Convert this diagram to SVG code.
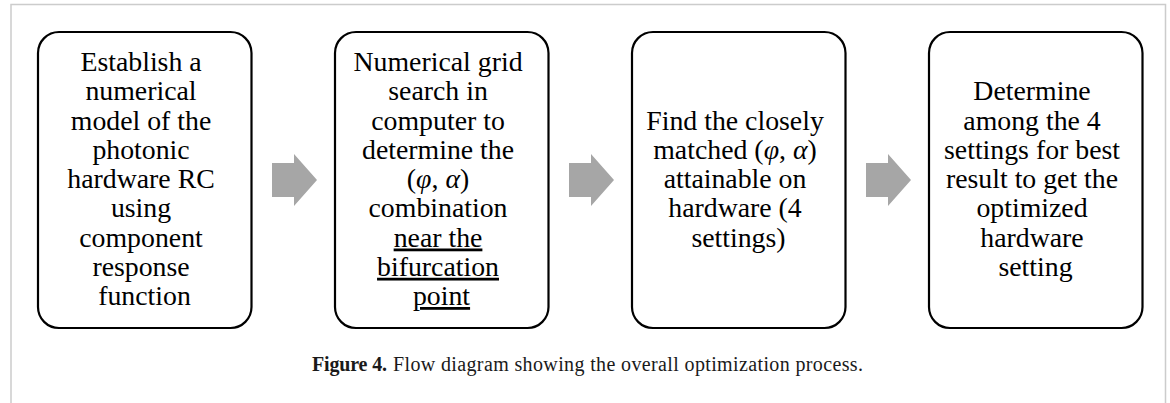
<svg xmlns="http://www.w3.org/2000/svg" width="1170" height="403" viewBox="0 0 1170 403">
  <style>
    .frame { fill: none; stroke: #cccccc; stroke-width: 1.5; }
    .box { fill: #ffffff; stroke: #000000; stroke-width: 2.2; }
    .arrow { fill: #a6a6a6; stroke: none; }
    .label { font-family: "Liberation Serif", "Times New Roman", serif; font-size: 27.8px; fill: #000000; text-anchor: middle; }
    .m { font-style: italic; }
    .u { text-decoration: underline; }
    .cap { font-family: "Liberation Serif", "Times New Roman", serif; font-size: 20px; fill: #1a1a1a; }
  </style>
  <defs>
    <polygon id="block-arrow" class="arrow" points="0,-17 22,-17 22,-26 45,0 22,26 22,17 0,17"/>
  </defs>

  <rect width="1170" height="403" fill="#ffffff"/>
  <path class="frame" d="M11,403 V4.5 H1165.5 V403"/>

  <g id="connectors">
    <use href="#block-arrow" x="272" y="180"/>
    <use href="#block-arrow" x="569" y="180"/>
    <use href="#block-arrow" x="866" y="180"/>
  </g>

  <g id="node-model">
    <rect class="box" x="38" y="32" width="213.5" height="296" rx="21"/>
    <text class="label" x="144.5" y="71">
      <tspan x="144.5" y="71">Establish a</tspan>
      <tspan x="144.5" y="100.25">numerical</tspan>
      <tspan x="144.5" y="129.5">model of the</tspan>
      <tspan x="144.5" y="158.75">photonic</tspan>
      <tspan x="144.5" y="188">hardware RC</tspan>
      <tspan x="144.5" y="217.25">using</tspan>
      <tspan x="144.5" y="246.5">component</tspan>
      <tspan x="144.5" y="275.75">response</tspan>
      <tspan x="144.5" y="305">function</tspan>
    </text>
  </g>

  <g id="node-grid-search">
    <rect class="box" x="335" y="32" width="213.5" height="296" rx="21"/>
    <text class="label" x="441.5" y="71">
      <tspan x="441.5" y="71">Numerical grid</tspan>
      <tspan x="441.5" y="100.25">search in</tspan>
      <tspan x="441.5" y="129.5">computer to</tspan>
      <tspan x="441.5" y="158.75">determine the</tspan>
      <tspan x="441.5" y="188">(<tspan class="m">φ</tspan>, <tspan class="m">α</tspan>)</tspan>
      <tspan x="441.5" y="217.25">combination</tspan>
      <tspan x="441.5" y="246.5" class="u">near the</tspan>
      <tspan x="441.5" y="275.75" class="u">bifurcation</tspan>
      <tspan x="441.5" y="305" class="u">point</tspan>
    </text>
  </g>

  <g id="node-hardware-match">
    <rect class="box" x="632" y="32" width="213.5" height="296" rx="21"/>
    <text class="label" x="738.5" y="129.5">
      <tspan x="738.5" y="129.5">Find the closely</tspan>
      <tspan x="738.5" y="158.75">matched (<tspan class="m">φ</tspan>, <tspan class="m">α</tspan>)</tspan>
      <tspan x="738.5" y="188">attainable on</tspan>
      <tspan x="738.5" y="217.25">hardware (4</tspan>
      <tspan x="738.5" y="246.5">settings)</tspan>
    </text>
  </g>

  <g id="node-best-setting">
    <rect class="box" x="929" y="32" width="213.5" height="296" rx="21"/>
    <text class="label" x="1035.5" y="100.25">
      <tspan x="1035.5" y="100.25">Determine</tspan>
      <tspan x="1035.5" y="129.5">among the 4</tspan>
      <tspan x="1035.5" y="158.75">settings for best</tspan>
      <tspan x="1035.5" y="188">result to get the</tspan>
      <tspan x="1035.5" y="217.25">optimized</tspan>
      <tspan x="1035.5" y="246.5">hardware</tspan>
      <tspan x="1035.5" y="275.75">setting</tspan>
    </text>
  </g>

  <g id="caption">
    <text class="cap" x="312" y="371" font-weight="bold" textLength="75" lengthAdjust="spacing">Figure 4.</text>
    <text class="cap" x="393" y="371" textLength="470" lengthAdjust="spacing">Flow diagram showing the overall optimization process.</text>
  </g>
</svg>
